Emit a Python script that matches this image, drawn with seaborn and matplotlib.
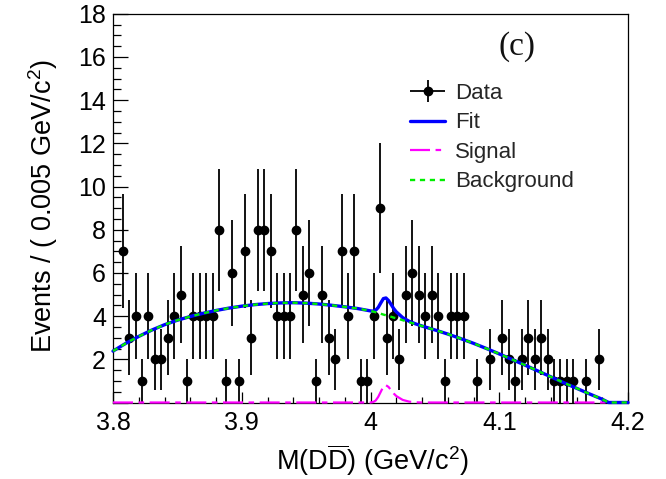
import numpy as np
import pandas as pd
import matplotlib
matplotlib.use("Agg")
import matplotlib.pyplot as plt
from matplotlib.ticker import MultipleLocator, FuncFormatter
from matplotlib.legend_handler import HandlerErrorbar
import seaborn as sns

# D Dbar invariant-mass spectrum, 0.005 GeV/c^2 bins from 3.80 to 4.20
bin_width = 0.005
mass_lo, mass_hi = 3.80, 4.20
counts = [0, 7, 3, 4, 1, 4, 2, 2, 3, 4,
          5, 1, 4, 4, 4, 4, 8, 1, 6, 1,
          7, 3, 8, 8, 7, 4, 4, 4, 8, 5,
          6, 1, 5, 3, 2, 7, 4, 7, 1, 1,
          4, 9, 3, 4, 2, 5, 6, 5, 4, 5,
          4, 1, 4, 4, 4, 0, 1, 0, 2, 0,
          3, 2, 1, 2, 3, 2, 3, 2, 1, 1,
          1, 1, 0, 1, 0, 2, 0, 0, 0, 0]

# Fitted model components sampled along the mass axis
curve_mass = [3.80, 3.81, 3.82, 3.83, 3.84, 3.85, 3.86, 3.87, 3.88, 3.89,
              3.90, 3.91, 3.92, 3.93, 3.94, 3.95, 3.96, 3.97, 3.98, 3.99,
              4.000, 4.002, 4.004, 4.006, 4.008, 4.010, 4.012, 4.014, 4.016,
              4.018, 4.020, 4.025, 4.030, 4.035, 4.040,
              4.05, 4.06, 4.07, 4.08, 4.09, 4.10, 4.11, 4.12, 4.13, 4.14,
              4.15, 4.16, 4.17, 4.18, 4.185, 4.19, 4.20]
background = [2.38, 2.74, 3.06, 3.35, 3.60, 3.81, 3.98, 4.13, 4.26, 4.37,
              4.46, 4.53, 4.58, 4.61, 4.62, 4.60, 4.56, 4.50, 4.43, 4.35,
              4.24, 4.21, 4.18, 4.14, 4.11, 4.07, 4.04, 4.00, 3.97,
              3.93, 3.90, 3.81, 3.72, 3.63, 3.54,
              3.36, 3.17, 2.96, 2.74, 2.50, 2.25, 1.99, 1.73, 1.46, 1.19,
              0.92, 0.66, 0.40, 0.15, 0.0, 0.0, 0.0]
signal = [0.0, 0.0, 0.0, 0.0, 0.0, 0.0, 0.0, 0.0, 0.0, 0.0,
          0.0, 0.0, 0.0, 0.0, 0.0, 0.0, 0.0, 0.0, 0.0, 0.0,
          0.0, 0.02, 0.09, 0.26, 0.50, 0.74, 0.80, 0.72, 0.57,
          0.42, 0.30, 0.12, 0.04, 0.01, 0.0,
          0.0, 0.0, 0.0, 0.0, 0.0, 0.0, 0.0, 0.0, 0.0, 0.0,
          0.0, 0.0, 0.0, 0.0, 0.0, 0.0, 0.0]

legend_labels = ["Data", "Fit", "Signal", "Background"]
panel_tag = "(c)"

# ---------------------------------------------------------------------------
sns.set_theme(style="ticks")
plt.rcParams["font.family"] = ["Liberation Sans", "DejaVu Sans"]
plt.rcParams["mathtext.fontset"] = "custom"
plt.rcParams["mathtext.rm"] = "Liberation Sans"
plt.rcParams["mathtext.it"] = "Liberation Sans:italic"
plt.rcParams["mathtext.bf"] = "Liberation Sans:bold"

data = pd.DataFrame({"count": counts})
data["mass"] = mass_lo + bin_width * (np.arange(len(counts)) + 0.5)
data = data[data["count"] > 0]

model = pd.DataFrame({"mass": curve_mass, "background": background,
                      "signal": signal})
model["fit"] = model["background"] + model["signal"]

fig = plt.figure(figsize=(6.66, 4.79), dpi=100)
ax = fig.add_axes([113 / 666, (479 - 402.5) / 479, 515 / 666, 388.8 / 479])
ax.set_facecolor("white")

eb = ax.errorbar(data["mass"], data["count"], yerr=np.sqrt(data["count"]),
                 xerr=bin_width / 2, fmt="o", color="black", ms=6,
                 elinewidth=1.3, capsize=0, zorder=3,
                 label=legend_labels[0])

sns.lineplot(data=model, x="mass", y="signal", ax=ax, color="#ff00ff",
             lw=1.6, linestyle=(0, (9, 2.5, 2.5, 2.5)), estimator=None,
             sort=False, clip_on=False, zorder=4)
sig_line = ax.lines[-1]
sns.lineplot(data=model, x="mass", y="fit", ax=ax, color="#0000ff",
             lw=2.4, estimator=None, sort=False, clip_on=False, zorder=5)
fit_line = ax.lines[-1]
sns.lineplot(data=model, x="mass", y="background", ax=ax, color="#00ee00",
             lw=1.7, linestyle=(0, (2.2, 2.0)), estimator=None, sort=False,
             clip_on=False, zorder=6)
bg_line = ax.lines[-1]

ax.set_xlim(mass_lo, mass_hi)
ax.set_ylim(0, 18)

ax.xaxis.set_major_locator(MultipleLocator(0.1))
ax.xaxis.set_minor_locator(MultipleLocator(0.02))
ax.yaxis.set_major_locator(MultipleLocator(2))
ax.yaxis.set_minor_locator(MultipleLocator(0.5))
ax.xaxis.set_major_formatter(FuncFormatter(lambda v, p: f"{v:g}"))
ax.yaxis.set_major_formatter(
    FuncFormatter(lambda v, p: "" if abs(v) < 1e-9 else f"{v:g}"))

ax.tick_params(axis="both", which="both", direction="in", colors="black",
               top=False, right=False, labelsize=18)
ax.tick_params(axis="y", which="major", length=11, width=0.9, pad=5)
ax.tick_params(axis="y", which="minor", length=5.5, width=0.9)
ax.tick_params(axis="x", which="major", length=8, width=0.9, pad=6)
ax.tick_params(axis="x", which="minor", length=4, width=0.9)
for side in ax.spines.values():
    side.set_visible(True)
    side.set_color("black")
    side.set_linewidth(0.9)

ax.set_xlabel(r"M(D$\overline{\mathrm{D}}$) (GeV/c$^{2}$)", fontsize=19.5,
              color="black")
ax.set_ylabel(r"Events / ( 0.005 GeV/c$^{2}$)", fontsize=19.5,
              color="black")
ax.xaxis.set_label_coords(0.503, -0.148)
ax.xaxis.label.set_va("center")
ax.yaxis.set_label_coords(-0.136, 0.505)
ax.yaxis.label.set_va("center")
ax.yaxis.label.set_ha("center")

ax.text(517 / 666, 1 - 47 / 479, panel_tag, transform=fig.transFigure,
        ha="center", va="center", fontsize=24,
        family=["Liberation Serif", "DejaVu Serif"], color="#111111")

ax.legend(handles=[eb, fit_line, sig_line, bg_line], labels=legend_labels,
          handler_map={type(eb): HandlerErrorbar(xerr_size=0.8,
                                                 yerr_size=0.5)},
          loc="upper left", bbox_to_anchor=(410 / 666, 1 - 83 / 479),
          bbox_transform=fig.transFigure, frameon=False, fontsize=16,
          handlelength=1.58, handletextpad=0.45, labelspacing=0.38,
          borderpad=0, borderaxespad=0)

fig.savefig("out.png", dpi=100, facecolor="white")
